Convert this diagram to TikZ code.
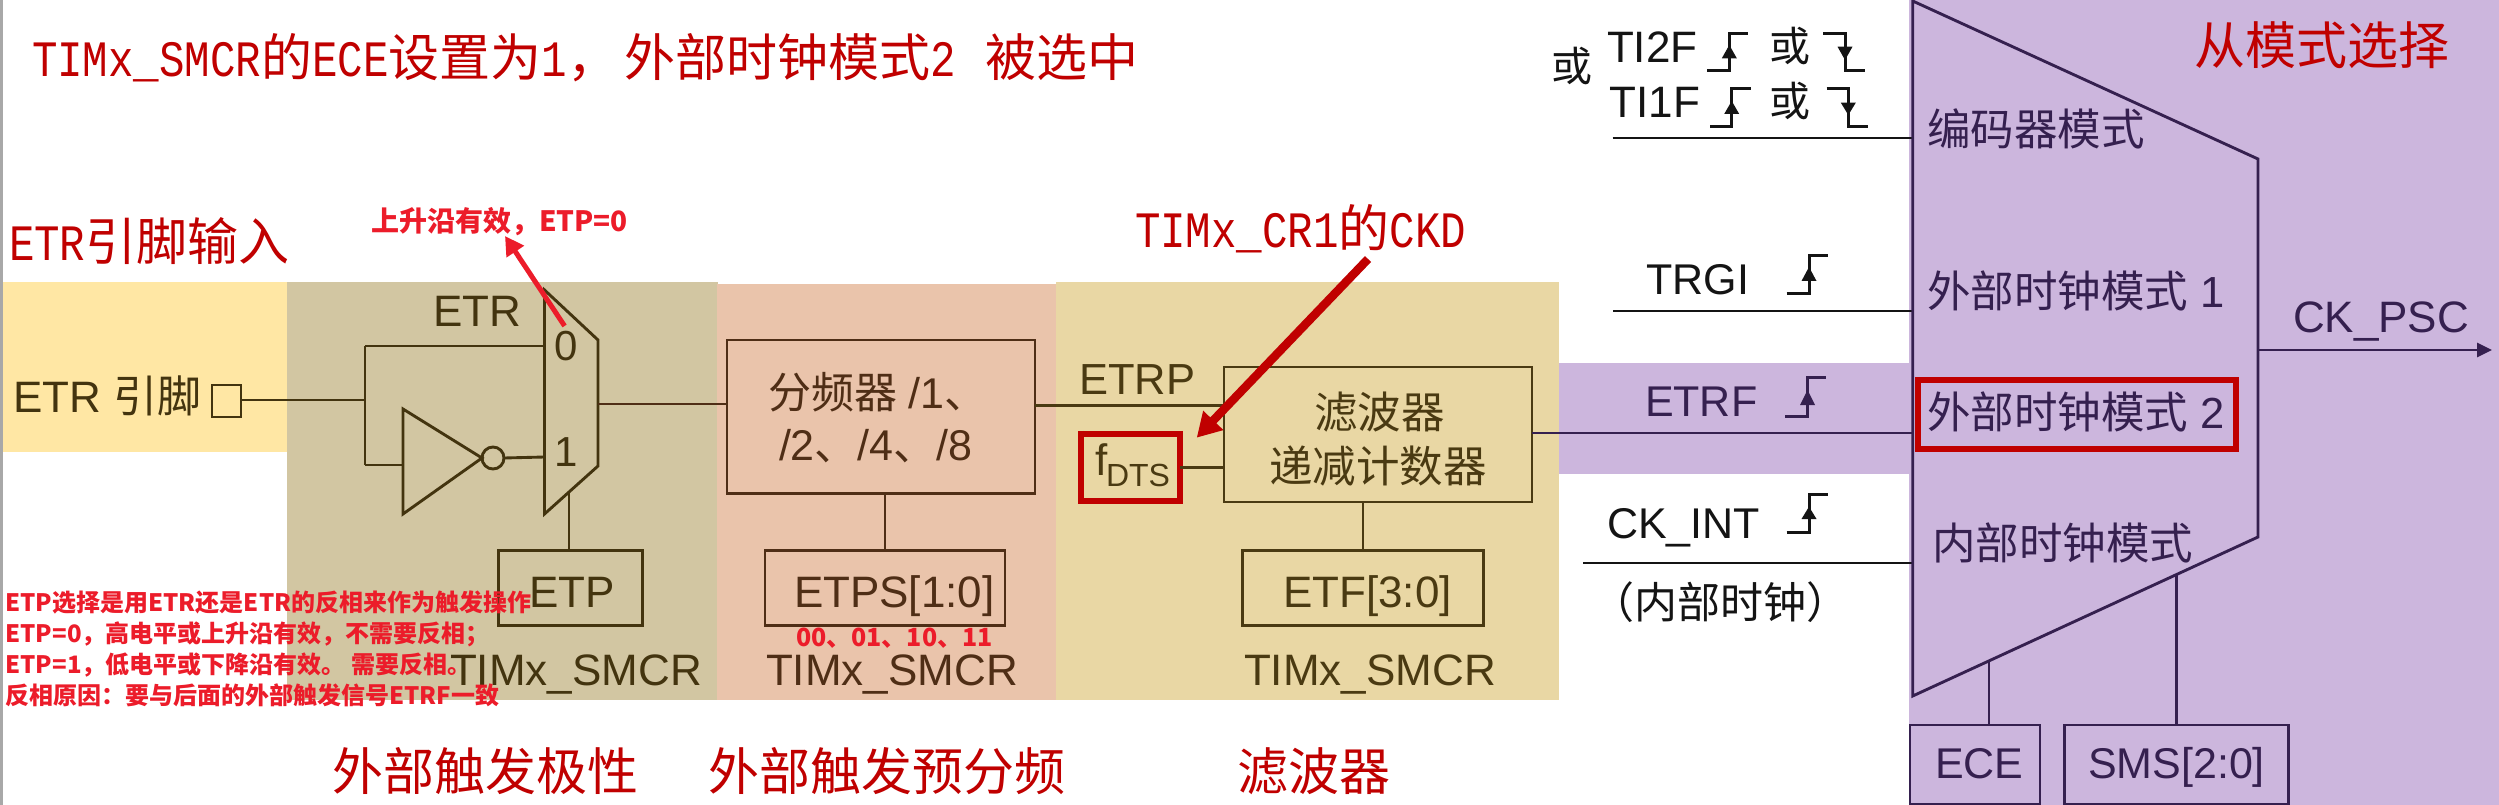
\documentclass[tikz,border=0pt]{standalone}
\usepackage{fontspec}
\usepackage{graphicx}
\usetikzlibrary{arrows.meta}
\setmainfont{Liberation Sans}
\newfontfamily\cjk{Noto Sans CJK SC}
\newfontfamily\rlat{Liberation Mono}
\newcommand\fpx[1]{\pgfmathsetmacro\fpxv{#1*0.4}\fontsize{\fpxv}{\fpxv}\selectfont}
\newcommand\cn[1]{{\cjk #1}}
\newcommand\rl[1]{\scalebox{.833}[1]{\rlat #1}}
\definecolor{bgyellow}{HTML}{FFE7A4}
\definecolor{bgtan}{HTML}{D2C6A2}
\definecolor{bgsalmon}{HTML}{EAC4AB}
\definecolor{bgfilter}{HTML}{E9D7A4}
\definecolor{bgpurple}{HTML}{CCB6DD}
\definecolor{bggray}{HTML}{A8A8A8}
\definecolor{inktan}{HTML}{43340F}
\definecolor{inksalmon}{HTML}{4F2E16}
\definecolor{inkfilter}{HTML}{4A3A12}
\definecolor{inkpurple}{HTML}{35204F}
\definecolor{inkblack}{HTML}{141414}
\definecolor{darkred}{HTML}{C00000}
\definecolor{brightred}{HTML}{EC1C2A}
\tikzset{
  x=0.4pt,y=-0.4pt,
  wire/.style={line width=1.15pt,line cap=butt},
  rbox/.style 2 args={draw,inner sep=0pt,outer sep=0pt,line width=1.15pt,minimum width=#1*0.4pt,minimum height=#2*0.4pt},
  lbl/.style={anchor=base west,inner sep=0pt,outer sep=0pt},
  redtitle/.style={lbl,text=darkred,font=\fpx{51}\cjk},
  redsmall/.style={text=brightred,font=\bfseries\cjk},
  bigarrow/.style={draw=darkred,line width=3.4pt,-{Triangle[length=9.6pt,width=10.5pt]}},
  smallarrow/.style={draw=brightred,line width=2pt,-{Triangle[length=7.5pt,width=8pt]}},
  redframe/.style={draw=darkred,line width=2.4pt,inner sep=0pt,outer sep=0pt}
}
% rising / falling edge glyphs: x0,x1,x2,ylow,yhigh,arrow-top,arrow-bottom
\newcommand\riseedge[7]{%
  \draw[line width=1.2pt] (#1,#4) -- (#2,#4) -- (#2,#5) -- (#3,#5);
  \fill (#2-7.5,#7) -- (#2+7.5,#7) -- (#2,#6) -- cycle;}
\newcommand\falledge[7]{%
  \draw[line width=1.2pt] (#1,#5) -- (#2,#5) -- (#2,#4) -- (#3,#4);
  \fill (#2-7.5,#6) -- (#2+7.5,#6) -- (#2,#7) -- cycle;}
\begin{document}
\begin{tikzpicture}
\useasboundingbox (0,0) rectangle (2499,805);
\clip (0,0) rectangle (2499,805);
\fill[white] (0,0) rectangle (2499,805);
% backgrounds
\fill[bggray] (0,0) rectangle (3,805);
\fill[bgyellow] (3,282) rectangle (287,452);
\fill[bgtan] (287,282) rectangle (718,700);
\fill[bgsalmon] (717,284) rectangle (1056,700);
\fill[bgfilter] (1056,282) rectangle (1559,700);
\fill[bgpurple] (1559,363) rectangle (1909,474);
\fill[bgpurple] (1909,0) rectangle (2499,805);

% ---------- polarity block
\begin{scope}[draw=inktan,text=inktan,color=inktan]
\node[rbox={29}{32}] (pin) at (226.5,401) {};
\coordinate (jn) at (365,400);
\coordinate (jtop) at (365,346);
\coordinate (jbot) at (365,465);
\coordinate (muxa) at (544.5,290);
\coordinate (muxb) at (598,340);
\coordinate (muxc) at (598,466);
\coordinate (muxd) at (544.5,514);
\coordinate (mux0) at (544.5,346);
\coordinate (mux1) at (544.5,457);
\coordinate (muxout) at (598,404);
\coordinate (muxctl) at (569,491);
\coordinate (inva) at (403,409);
\coordinate (invb) at (403,514);
\coordinate (invtip) at (482,458);
\coordinate (invin) at (403,465);
\node[draw,circle,line width=1.15pt,minimum size=8.8pt,inner sep=0pt,outer sep=0pt] (bubble) at (493,458) {};
\draw[wire] (muxa) -- (muxb) -- (muxc) -- (muxd) -- cycle;
\draw[wire] (inva) -- (invtip) -- (invb) -- cycle;
\draw[wire] (pin.east |- jn) -- (jn);
\draw[wire] (jtop) -- (jbot);
\draw[wire] (jtop) -- (mux0);
\draw[wire] (jbot) -- (invin);
\draw[wire] (bubble.east) -- (mux1);
\node[rbox={143.5}{75.5}] (etp) at (570.5,588) {};
\draw[wire] (muxctl) -- (muxctl |- etp.north);
\node[lbl,font=\fpx{44}] (tetr) at (433,327) {ETR};
\node[lbl,font=\fpx{44}] (tpin) at (13,413) {ETR \cn{引脚}};
\node[lbl,font=\fpx{42}] (t0) at (554,360) {0};
\node[lbl,font=\fpx{42}] (t1) at (554,466) {1};
\node[lbl,font=\fpx{44}] (tetp) at (529,607.5) {ETP};
\node[lbl,font=\fpx{44}] (ts1) at (450,685) {TIMx\_SMCR};
\end{scope}

% ---------- prescaler block
\begin{scope}[draw=inksalmon,text=inksalmon,color=inksalmon]
\node[rbox={308}{153.5}] (psc) at (881,416.7) {};
\node[rbox={240}{75.5}] (etps) at (885,588) {};
\draw[wire] (muxout) -- (muxout -| psc.west);
\draw[wire] (psc.south -| etps.north) -- (etps.north);
\node[lbl,font=\fpx{43}] (tpsc1) at (768,408) {\cn{分频器} /1\cn{、}};
\node[lbl,font=\fpx{43}] (tpsc2) at (779,460) {/2\cn{、}/4\cn{、}/8};
\node[lbl,font=\fpx{44}] (tetps) at (794,607.5) {ETPS[1:0]};
\node[lbl,font=\fpx{44}] (ts2) at (766,685) {TIMx\_SMCR};
\end{scope}

% ---------- filter block
\begin{scope}[draw=inkfilter,text=inkfilter,color=inkfilter]
\node[rbox={308}{135}] (flt) at (1378,434.5) {};
\node[rbox={241}{75.5}] (etf) at (1363,588) {};
\node[redframe,minimum width=39.6pt,minimum height=26.8pt] (fdts) at (1130.5,467.2) {};
\draw[redframe] ([yshift=1.1pt]fdts.north west) -- ([yshift=-1.1pt]fdts.south west);
\draw[redframe] ([yshift=1.1pt]fdts.north east) -- ([yshift=-1.1pt]fdts.south east);
\draw[wire] (psc.east |- 0,405.7) -- (flt.west |- 0,405.7);
\draw[wire] (fdts.east) -- (flt.west |- fdts.east);
\draw[wire] (flt.south -| etf.north) -- (etf.north);
\node[lbl,font=\fpx{43.5}] (tetrp) at (1079,394.5) {ETRP};
\node[lbl,font=\fpx{43.5}\cjk] (tflt1) at (1314,429) {滤波器};
\node[lbl,font=\fpx{43.5}\cjk] (tflt2) at (1269,482) {递减计数器};
\node[lbl,font=\fpx{44}] (tfd) at (1095,475) {f};
\node[lbl,font=\fpx{32}] (tdts) at (1106,486.7) {DTS};
\node[lbl,font=\fpx{44}] (tetf) at (1283,607.5) {ETF[3:0]};
\node[lbl,font=\fpx{44}] (ts3) at (1244,685) {TIMx\_SMCR};
\end{scope}

% ---------- left of slave-mode mux, white
\coordinate (ti) at (1612.7,138);
\coordinate (trg) at (1613,311);
\coordinate (ckl) at (1583,563);
\coordinate (slavea) at (1912.7,1);
\coordinate (slaveb) at (2258,159);
\coordinate (slavec) at (2258,537);
\coordinate (slaved) at (1912.7,696);
\begin{scope}[draw=inkblack,text=inkblack,color=inkblack]
\draw[wire] (ti) -- (ti -| slavea);
\draw[wire] (trg) -- (trg -| slavea);
\draw[wire] (ckl) -- (ckl -| slavea);
\node[lbl,font=\fpx{41}\cjk] (tor0) at (1551,82) {或};
\node[lbl,font=\fpx{44}] (tti2) at (1607,63) {TI2F};
\node[lbl,font=\fpx{44}] (tti1) at (1609.5,118) {TI1F};
\node[lbl,font=\fpx{41}\cjk] (tor1) at (1769,62) {或};
\node[lbl,font=\fpx{41}\cjk] (tor2) at (1769,117) {或};
\riseedge{1707.3}{1729.3}{1748.3}{71}{33.3}{45}{58.3}
\falledge{1823.3}{1845}{1865}{71}{33.3}{46.7}{60}
\riseedge{1710}{1731.7}{1751}{126.7}{89}{101}{114}
\falledge{1826.7}{1848.3}{1867.7}{126.7}{89}{102.7}{115}
\node[lbl,font=\fpx{43}] (ttrgi) at (1646.5,295) {TRGI};
\riseedge{1786.6}{1809}{1828}{294}{255.7}{267}{281}
\node[lbl,font=\fpx{43}] (tckint) at (1607,538) {CK\_INT};
\riseedge{1786.6}{1809}{1828}{532.7}{494}{506.7}{519}
\node[lbl,font=\fpx{43}\cjk] (tint) at (1591,618) {（内部时钟）};
\end{scope}

% ---------- slave mode selector
\begin{scope}[draw=inkpurple,text=inkpurple,color=inkpurple]
\draw[wire] (slavea) -- (slaveb) -- (slavec) -- (slaved) -- cycle;
\draw[wire] (flt.east |- 0,433) -- (slavea |- 0,433);
\node[rbox={130}{79}] (ece) at (1975,764.5) {};
\node[rbox={224.5}{79}] (sms) at (2176.5,764.5) {};
\coordinate (ecetop) at (1989,660);
\coordinate (smstop) at (2176.5,575);
\draw[wire] (ecetop) -- (ecetop |- ece.north);
\draw[wire] (smstop) -- (smstop |- sms.north);
\coordinate (pscout) at (2258,350);
\coordinate (pscend) at (2492,350);
\draw[wire,-{Triangle[length=6pt,width=5.6pt]}] (pscout) -- (pscend);
\node[lbl,font=\fpx{43}] (tetrf) at (1645,416.5) {ETRF};
\riseedge{1785}{1807.6}{1826}{416}{377.7}{390}{405}
\node[lbl,font=\fpx{43.5}\cjk] (m1) at (1927,146) {编码器模式};
\node[lbl,font=\fpx{43.5}] (m2) at (1927,308) {\cn{外部时钟模式} 1};
\node[lbl,font=\fpx{43.5}] (m3) at (1927,429) {\cn{外部时钟模式} 2};
\node[lbl,font=\fpx{43.5}\cjk] (m4) at (1932,559) {内部时钟模式};
\node[lbl,font=\fpx{44}] (tpsc) at (2293,333) {CK\_PSC};
\node[lbl,font=\fpx{43}] (tece) at (1935,778.5) {ECE};
\node[lbl,font=\fpx{43}] (tsms) at (2088,778.5) {SMS[2:0]};
\end{scope}
\node[redframe,minimum width=127.2pt,minimum height=27.6pt] (mode2) at (2077,414.5) {};

% ---------- red annotations
\node[redtitle] (title) at (32,77) {\rl{TIMx\_SMCR}的\rl{ECE}设置为\rl{1}，\hspace{2.4pt}外部时钟模式\rl{2}\hspace{7.2pt} 被选中};
\node[redtitle] (etrin) at (9,261) {\rl{ETR}引脚输入};
\node[redtitle] (ckd) at (1135,248) {\rl{TIMx\_CR1}的\rl{CKD}};
\node[redtitle] (lab1) at (332,790) {外部触发极性};
\node[redtitle] (lab2) at (708,790) {外部触发预分频};
\node[redtitle] (lab3) at (1237,790) {滤波器};
\node[redtitle] (lab4) at (2194,65) {从模式选择};
\node[lbl,redsmall,font=\fpx{28}\bfseries\cjk] (rise) at (371,232) {上升沿有效，ETP=0\hspace{1pt}};
\node[lbl,redsmall,font=\fpx{25}\bfseries\cjk] (codes) at (796,646) {00、01、10、11};
\node[redsmall,anchor=north west,inner sep=0pt,align=left,font=\fontsize{9.6}{12.4}\bfseries\cjk] (note) at (5,590) {ETP选择是用ETR还是ETR的反相来作为触发操作\\ETP=0，高电平或上升沿有效，不需要反相；\\ETP=1，低电平或下降沿有效。 需要反相。\\反相原因：要与后面的外部触发信号ETRF一致};
\coordinate (a1s) at (564.6,326);
\coordinate (a1e) at (505,236);
\coordinate (a2s) at (1368,259);
\coordinate (a2e) at (1196.7,437.7);
\draw[smallarrow] (a1s) -- (a1e);
\draw[bigarrow] (a2s) -- (a2e);
\end{tikzpicture}
\end{document}
